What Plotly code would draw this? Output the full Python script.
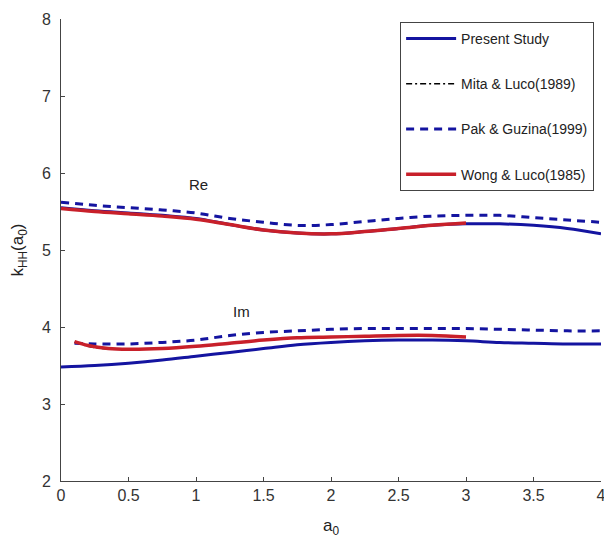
import plotly.graph_objects as go

# Dimensionless frequency a0 and horizontal impedance k_HH (real / imaginary parts)
a0_present = [0, 0.25, 0.5, 0.75, 1.0, 1.25, 1.5, 1.75, 2.0, 2.25, 2.5, 2.75, 3.0, 3.25, 3.5, 3.75, 4.0]
present_re = [5.55, 5.51, 5.48, 5.45, 5.41, 5.33, 5.26, 5.22, 5.21, 5.24, 5.28, 5.32, 5.34, 5.34, 5.32, 5.28, 5.21]
present_im = [3.48, 3.50, 3.53, 3.57, 3.62, 3.67, 3.72, 3.77, 3.80, 3.82, 3.83, 3.83, 3.82, 3.80, 3.79, 3.78, 3.78]

a0_mita = [0.1, 0.2, 0.3, 0.5, 0.75, 1.0, 1.25, 1.5, 1.75, 2.0, 2.25, 2.5, 2.75, 3.0]
mita_re = [5.53, 5.51, 5.49, 5.47, 5.44, 5.40, 5.33, 5.26, 5.22, 5.21, 5.24, 5.28, 5.32, 5.35]
mita_im = [3.80, 3.75, 3.72, 3.71, 3.72, 3.75, 3.79, 3.83, 3.86, 3.87, 3.88, 3.89, 3.89, 3.87]

a0_pak_re = [0, 0.25, 0.5, 0.75, 1.0, 1.25, 1.5, 1.75, 2.0, 2.25, 2.5, 2.75, 3.0, 3.25, 3.5, 3.75, 4.0]
pak_re = [5.62, 5.58, 5.55, 5.52, 5.48, 5.41, 5.36, 5.32, 5.33, 5.37, 5.41, 5.44, 5.45, 5.45, 5.42, 5.39, 5.36]
a0_pak_im = [0.1, 0.25, 0.5, 0.75, 1.0, 1.25, 1.5, 1.75, 2.0, 2.25, 2.5, 2.75, 3.0, 3.25, 3.5, 3.75, 4.0]
pak_im = [3.79, 3.78, 3.78, 3.80, 3.83, 3.89, 3.93, 3.95, 3.97, 3.98, 3.98, 3.98, 3.98, 3.97, 3.96, 3.95, 3.95]

a0_wong_re = [0, 0.25, 0.5, 0.75, 1.0, 1.25, 1.5, 1.75, 2.0, 2.25, 2.5, 2.75, 3.0]
wong_re = [5.54, 5.50, 5.47, 5.44, 5.40, 5.33, 5.26, 5.22, 5.21, 5.24, 5.28, 5.32, 5.35]
a0_wong_im = [0.1, 0.2, 0.35, 0.5, 0.75, 1.0, 1.25, 1.5, 1.75, 2.0, 2.25, 2.5, 2.75, 3.0]
wong_im = [3.81, 3.76, 3.72, 3.71, 3.72, 3.75, 3.79, 3.83, 3.86, 3.87, 3.88, 3.89, 3.89, 3.87]

x_ticks = [0, 0.5, 1, 1.5, 2, 2.5, 3, 3.5, 4]
x_tick_text = ["0", "0.5", "1", "1.5", "2", "2.5", "3", "3.5", "4"]
y_ticks = [2, 3, 4, 5, 6, 7, 8]

BLUE = "#1414a0"
RED = "#c8202a"
FONT = "Liberation Sans, Arial, sans-serif"

series = [
    ("Present Study", a0_present, present_re, a0_present, present_im,
     dict(color=BLUE, width=3)),
    ("Mita & Luco(1989)", a0_mita, mita_re, a0_mita, mita_im,
     dict(color="#000000", width=1.5, dash="6px,3px,2px,3px")),
    ("Pak & Guzina(1999)", a0_pak_re, pak_re, a0_pak_im, pak_im,
     dict(color=BLUE, width=3, dash="8px,6px")),
    ("Wong & Luco(1985)", a0_wong_re, wong_re, a0_wong_im, wong_im,
     dict(color=RED, width=3.5)),
]

fig = go.Figure()
for name, xr, yr, xi, yi, line in series:
    fig.add_trace(go.Scatter(x=xr, y=yr, mode="lines", name=name, legendgroup=name,
                             line=dict(shape="spline", smoothing=1.0, **line)))
    fig.add_trace(go.Scatter(x=xi, y=yi, mode="lines", name=name, legendgroup=name,
                             showlegend=False,
                             line=dict(shape="spline", smoothing=1.0, **line)))

axis_common = dict(
    showgrid=False, zeroline=False, showline=True, linecolor="#444", linewidth=1,
    ticks="inside", ticklen=4, tickcolor="#444", automargin=False,
    tickfont=dict(family=FONT, size=16, color="#333"),
    mirror=False, ticklabeloverflow="allow",
)

fig.update_xaxes(range=[0, 4], tickvals=x_ticks, ticktext=x_tick_text,
                 title=dict(text="a<sub>0</sub>", font=dict(family=FONT, size=17, color="#222"),
                            standoff=17),
                 **axis_common)
fig.update_yaxes(range=[2, 8], tickvals=y_ticks, ticklabelstandoff=6,
                 title=dict(text="k<sub>HH</sub>(a<sub>0</sub>)",
                            font=dict(family=FONT, size=17, color="#222"), standoff=13),
                 **axis_common)

fig.add_annotation(x=1.02, y=5.85, text="Re", showarrow=False, xref="x", yref="y",
                   font=dict(family=FONT, size=15, color="#222"))
fig.add_annotation(x=1.34, y=4.2, text="Im", showarrow=False, xref="x", yref="y",
                   font=dict(family=FONT, size=15, color="#222"))

fig.update_layout(
    width=604, height=538,
    margin=dict(l=61, r=3, t=19, b=57),
    paper_bgcolor="white", plot_bgcolor="white",
    template="none",
    showlegend=True,
    legend=dict(
        x=0.628, y=0.9935, xanchor="left", yanchor="top",
        bgcolor="white", bordercolor="#444", borderwidth=1,
        font=dict(family=FONT, size=14, color="#222"),
        tracegroupgap=24, itemwidth=50,
    ),
)

fig.write_html("out.html")
